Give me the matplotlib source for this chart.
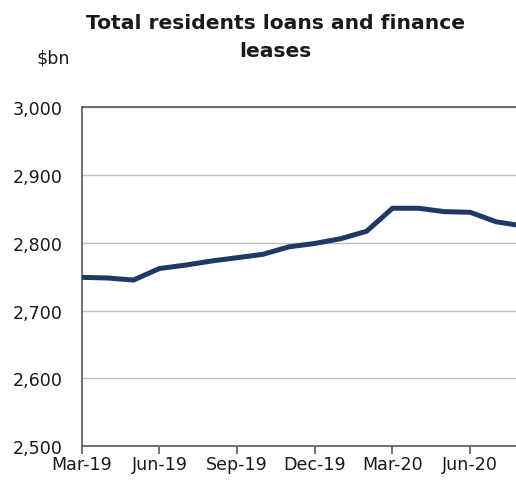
import matplotlib
matplotlib.use("Agg")
import matplotlib.pyplot as plt

months = ["Mar-19", "Apr-19", "May-19", "Jun-19", "Jul-19", "Aug-19", "Sep-19",
          "Oct-19", "Nov-19", "Dec-19", "Jan-20", "Feb-20", "Mar-20", "Apr-20",
          "May-20", "Jun-20", "Jul-20", "Aug-20"]
loans = [2749, 2748, 2745, 2762, 2767, 2773, 2778, 2783, 2794, 2799, 2806, 2817,
         2851, 2851, 2846, 2845, 2831, 2825]
tick_labels = ["Mar-19", "Jun-19", "Sep-19", "Dec-19", "Mar-20", "Jun-20"]
y_ticks = [2500, 2600, 2700, 2800, 2900, 3000]

W, H = 516, 481
fig = plt.figure(figsize=(W / 100, H / 100), dpi=100)
left, right, top, bottom = 81.7, 516, 108.3, 447.0
ax = fig.add_axes([left / W, 1 - bottom / H, (right - left) / W, (bottom - top) / H])

x = list(range(len(months)))
ax.plot(x, loans, color="#1F3864", lw=3.6, solid_joinstyle="miter", zorder=3)

ax.set_ylim(2500, 3000)
ax.set_xlim(0, (right - left) / 25.9)
ax.set_yticks(y_ticks)
ax.set_yticklabels([f"{v:,}" for v in y_ticks])
ax.set_xticks([months.index(m) for m in tick_labels])
ax.set_xticklabels(tick_labels)

ax.yaxis.grid(True, color="#BFBFBF", lw=1.0)
ax.set_axisbelow(True)
for s in ["left", "bottom", "top"]:
    ax.spines[s].set_color("#595959")
    ax.spines[s].set_linewidth(1.2)
ax.spines["right"].set_visible(False)

ax.tick_params(axis="y", length=0, pad=13.5, labelsize=12.6, colors="#595959", labelcolor="#1a1a1a")
ax.tick_params(axis="x", length=6, width=1.2, pad=0.5, labelsize=12.6, colors="#595959", labelcolor="#1a1a1a")

fig.text(275 / W, 1 - 14 / H, "Total residents loans and finance\nleases", ha="center", va="top",
         fontsize=14.6, fontweight="bold", color="#1a1a1a", linespacing=1.62)
fig.text(36 / W, 1 - 63 / H, "$bn", ha="left", va="baseline", fontsize=12.6, color="#1a1a1a")

fig.savefig("out.png", dpi=100)
